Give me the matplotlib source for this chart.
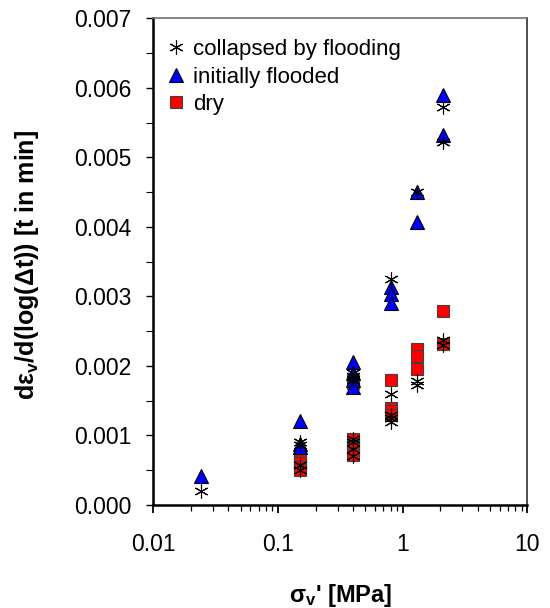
import matplotlib
matplotlib.use("Agg")
import matplotlib.pyplot as plt
from matplotlib.ticker import MultipleLocator, LogLocator, NullFormatter, FixedLocator, FixedFormatter

plt.rcParams['font.family'] = ['Liberation Sans', 'DejaVu Sans']
plt.rcParams['mathtext.fontset'] = 'custom'
plt.rcParams['mathtext.rm'] = 'Liberation Sans:bold'
plt.rcParams['mathtext.it'] = 'Liberation Sans:bold:italic'
plt.rcParams['mathtext.bf'] = 'Liberation Sans:bold'

# collapsed by flooding
collapsed_x = [0.024, 0.15, 0.15, 0.15, 0.15,
               0.4, 0.4, 0.4, 0.4, 0.4, 0.4, 0.4,
               0.8, 0.8, 0.8, 0.8, 0.8,
               1.3, 1.3, 1.3,
               2.1, 2.1, 2.1, 2.1]
collapsed_y = [0.0002, 0.0009, 0.00086, 0.00057, 0.0005,
               0.0019, 0.00185, 0.0018, 0.00095, 0.0009, 0.0008, 0.0007,
               0.00325, 0.0016, 0.0013, 0.00125, 0.0012,
               0.0045, 0.00179, 0.00172,
               0.00573, 0.00522, 0.00237, 0.0023]

# initially flooded
flooded_x = [0.024, 0.15, 0.15, 0.15,
             0.4, 0.4, 0.4, 0.4,
             0.8, 0.8, 0.8,
             1.3, 1.3,
             2.1, 2.1]
flooded_y = [0.00042, 0.00121, 0.00088, 0.00083,
             0.00205, 0.0019, 0.0018, 0.0017,
             0.00313, 0.00304, 0.0029,
             0.0045, 0.00407,
             0.00589, 0.00532]

# dry
dry_x = [0.15, 0.15, 0.15, 0.15, 0.15,
         0.4, 0.4, 0.4, 0.4, 0.4, 0.4,
         0.8, 0.8, 0.8, 0.8,
         1.3, 1.3, 1.3,
         2.1, 2.1]
dry_y = [0.0007, 0.00065, 0.0006, 0.00055, 0.0005,
         0.0018, 0.00175, 0.00095, 0.00088, 0.0008, 0.00072,
         0.0018, 0.0014, 0.00135, 0.0013,
         0.00225, 0.00215, 0.00196,
         0.00279, 0.00232]

labels = ['collapsed by flooding', 'initially flooded', 'dry']
x_ticks = [0.01, 0.1, 1, 10]
x_ticklabels = ['0.01', '0.1', '1', '10']
y_ticks = [0.000, 0.001, 0.002, 0.003, 0.004, 0.005, 0.006, 0.007]
y_ticklabels = ['0.000', '0.001', '0.002', '0.003', '0.004', '0.005', '0.006', '0.007']

fig = plt.figure(figsize=(5.5, 6.08), dpi=100)
ax = fig.add_axes([0.279, 0.1694, 0.6797, 0.8005])

h_dry, = ax.plot(dry_x, dry_y, ls='none', marker='s', ms=9, mfc='#ff0000',
                 mec='#404040', mew=0.8, zorder=3)
h_fl, = ax.plot(flooded_x, flooded_y, ls='none', marker='^', ms=10, mfc='#0000ff',
                mec='black', mew=0.8, zorder=4)
h_col, = ax.plot(collapsed_x, collapsed_y, ls='none', marker=(6, 2, 0), ms=10,
                 mec='black', mew=0.8, zorder=5)

ax.set_xscale('log')
ax.set_xlim(0.01, 10)
ax.set_ylim(0, 0.007)

ax.xaxis.set_major_locator(FixedLocator(x_ticks))
ax.xaxis.set_major_formatter(FixedFormatter(x_ticklabels))
ax.xaxis.set_minor_locator(LogLocator(base=10, subs=range(2, 10)))
ax.xaxis.set_minor_formatter(NullFormatter())
ax.yaxis.set_major_locator(FixedLocator(y_ticks))
ax.yaxis.set_major_formatter(FixedFormatter(y_ticklabels))
ax.yaxis.set_minor_locator(MultipleLocator(0.0005))

ax.tick_params(axis='x', which='major', direction='out', length=6, width=1.3, pad=14, labelsize=16.5)
ax.tick_params(axis='x', which='minor', direction='out', length=4, width=0.9)
ax.tick_params(axis='y', which='major', direction='out', length=5, width=1.0, pad=11, labelsize=16.5)
ax.tick_params(axis='y', which='minor', direction='out', length=5, width=0.8)

for s in ['left', 'bottom']:
    ax.spines[s].set_linewidth(1.8)
    ax.spines[s].set_color('black')
ax.spines['top'].set_linewidth(1.2)
ax.spines['top'].set_color('#707070')
ax.spines['right'].set_linewidth(1.2)
ax.spines['right'].set_color('#303030')

ax.set_xlabel("σ$_\\mathrm{v}$' [MPa]", fontsize=17, fontweight='bold')
ax.set_ylabel("dε$_\\mathrm{v}$/d(log(Δt)) [t in min]", fontsize=18, fontweight='bold')
ax.xaxis.set_label_coords(0.5, -0.158)
ax.yaxis.set_label_coords(-0.30, 0.493)

leg = ax.legend([h_col, h_fl, h_dry], labels, loc='upper left', frameon=False,
                fontsize=16, handlelength=0.8, handletextpad=0.4, labelspacing=0.3,
                borderaxespad=0.2, bbox_to_anchor=(0.0, 0.985))

fig.savefig('out.png', dpi=100)
